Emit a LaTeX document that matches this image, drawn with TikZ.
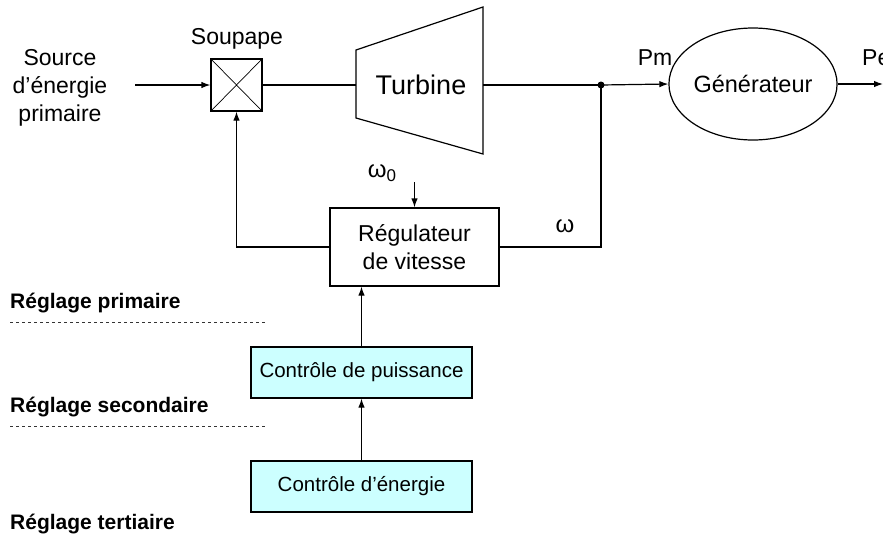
\documentclass[tikz,border=0pt]{standalone}
\usepackage{fontspec}
\setmainfont{Liberation Sans}
\usetikzlibrary{arrows.meta,shapes.geometric}
\definecolor{boxcyan}{HTML}{CCFFFF}
\tikzset{
  lbl/.style={font=\fontsize{23}{28}\selectfont, inner sep=0pt},
  blbl/.style={font=\fontsize{21}{24}\selectfont\bfseries, inner sep=0pt, anchor=west},
  wire/.style={line width=1.2pt},
  arr/.style={wire, -{Latex[length=9pt,width=6.5pt]}},
  blk/.style={draw, line width=1.2pt, rectangle, inner sep=0pt, align=center, font=\fontsize{23}{28}\selectfont},
  cbox/.style={blk, fill=boxcyan, minimum width=221pt, minimum height=51pt, font=\fontsize{20.5}{26}\selectfont},
  sep/.style={line width=0.8pt, dash pattern=on 3pt off 3pt, black!80},
}
\begin{document}
\begin{tikzpicture}[x=1pt,y=-1pt]
\useasboundingbox (0,0) rectangle (883,542);
% Source label
\node[lbl, align=center] (src) at (60,88) {Source\\d’énergie\\primaire};
\coordinate (srcend) at (135,85);
% Valve
\node[blk, minimum width=51pt, minimum height=52pt] (soup) at (236.5,85) {};
\draw[line width=0.7pt] (soup.north west) -- (soup.south east) (soup.north east) -- (soup.south west);
\node[lbl] (souplbl) at (237,39) {Soupape};
% Turbine
\coordinate (tL) at (356,85);
\coordinate (tR) at (483,85);
\draw[wire] (356,50) -- (483,7) -- (483,154) -- (356,118) -- cycle;
\node[lbl, font=\fontsize{27}{30}\selectfont] (turb) at (421,85) {Turbine};
% Junction
\coordinate (junc) at (601,85);
\fill (junc) circle (3.5pt);
% Generator
\node[draw, wire, ellipse, minimum width=136pt, minimum height=112pt, inner sep=0pt, font=\fontsize{23.5}{28}\selectfont] (gen) at (753,84) {Générateur};
\coordinate (out) at (883,84);
\node[lbl] (pm) at (655,58) {Pm};
\node[lbl, anchor=west] (pe) at (862,58) {Pe};
% Regulator
\node[blk, minimum width=169pt, minimum height=78pt] (reg) at (414.5,247) {Régulateur\\de vitesse};
\coordinate (w0start) at (414.5,182);
\node[lbl, font=\fontsize{24}{26}\selectfont] (w0) at (382,173) {ω\raisebox{-0.35ex}{\fontsize{17}{18}\selectfont 0}};
\node[lbl, font=\fontsize{24}{26}\selectfont] (w) at (565,226) {ω};
% Control boxes
\node[cbox] (puis) at (361.5,372.5) {Contrôle de puissance};
\node[cbox] (ener) at (361.5,486.5) {Contrôle d’énergie};
% Level labels
\node[blbl] (l1) at (10,303) {Réglage primaire};
\node[blbl] (l2) at (10,407) {Réglage secondaire};
\node[blbl] (l3) at (10,524) {Réglage tertiaire};
\coordinate (d1a) at (10,322); \coordinate (d1b) at (266,322);
\coordinate (d2a) at (10,426); \coordinate (d2b) at (266,426);
\draw[sep] (d1a) -- (d1b);
\draw[sep] (d2a) -- (d2b);
% Connectors
\draw[arr] (srcend) -- (soup.west);
\draw[wire] (soup.east) -- (tL);
\draw[wire] (tR) -- (junc);
\draw[arr] (junc) -- (gen.west);
\draw[arr] (gen.east) -- (out);
\draw[wire] (junc) |- (reg.east);
\draw[arr] (reg.west) -| (soup.south);
\draw[arr] (w0start) -- (reg.north);
\draw[arr] (puis.north) -- (puis.north |- reg.south);
\draw[arr] (ener.north) -- (puis.south);
\end{tikzpicture}
\end{document}
